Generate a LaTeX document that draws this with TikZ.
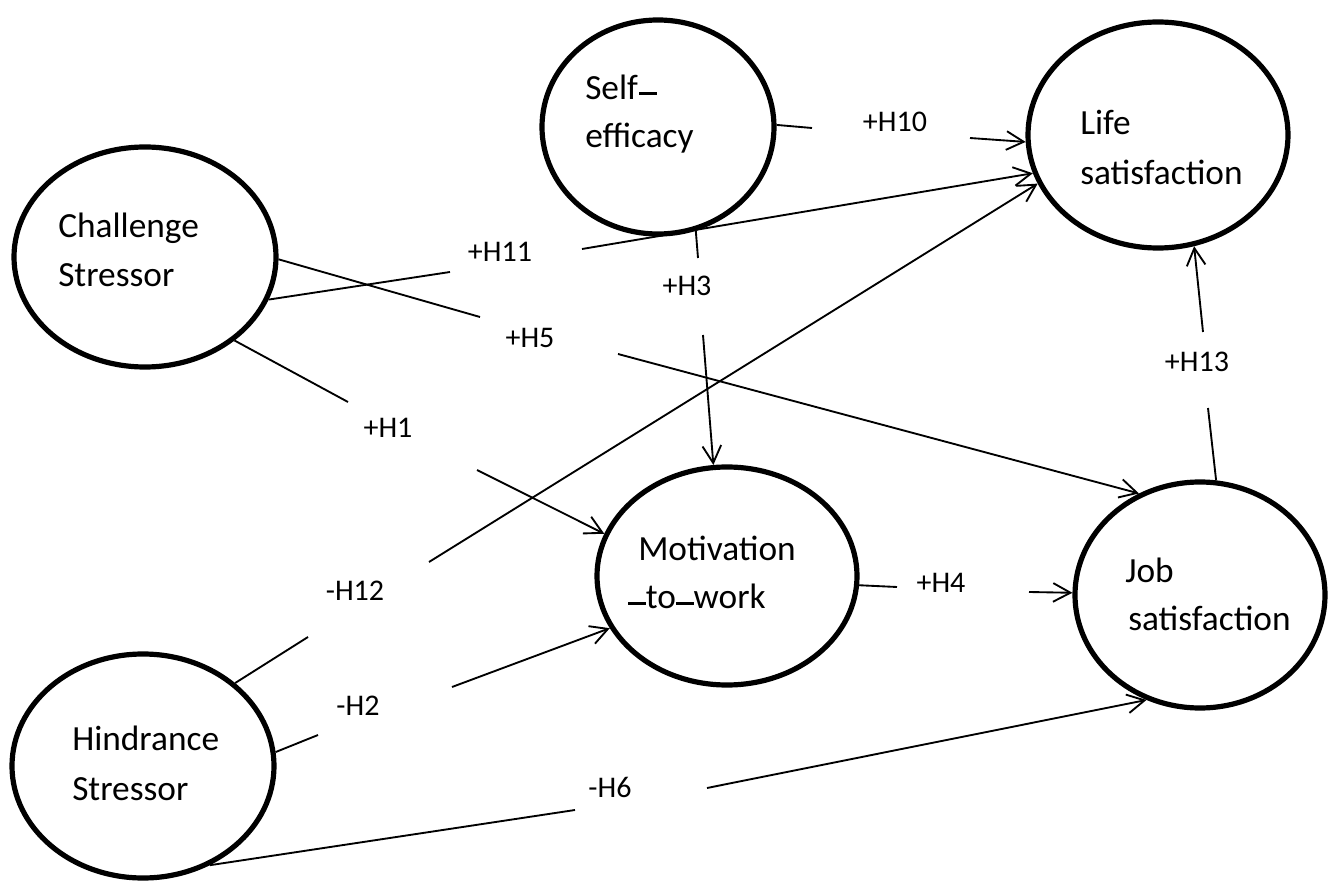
\documentclass[tikz,border=0pt]{standalone}
\usepackage{fontspec}
\setmainfont{Carlito}
\usetikzlibrary{arrows.meta,shapes.geometric}
\newcommand{\mydash}{\rule[0.09em]{0.5em}{0.09em}}
\newcommand{\mydashhi}{\rule[0.14em]{0.5em}{0.1em}}
\begin{document}
\begin{tikzpicture}[x=0.75pt,y=-0.75pt,
  bub/.style={draw, ellipse, line width=3.9pt, inner sep=0pt},
  txt/.style={anchor=base west, inner sep=0pt, font=\fontsize{26.5}{30}\selectfont},
  lab/.style={anchor=base, inner sep=0pt, font=\fontsize{22.5}{26}\selectfont},
  con/.style={line width=1.4pt},
  arr/.style={con, -{Straight Barb[length=13pt,width=14pt,line width=1.4pt]}}]
\useasboundingbox (0,0) rectangle (1340,884);
\fill[white] (0,0) rectangle (1340,884);

% ellipses
\node[bub, minimum width=196.5pt, minimum height=165pt] (chal) at (145,257) {};
\node[bub, minimum width=196.5pt, minimum height=168pt] (hind) at (143,766) {};
\node[bub, minimum width=174pt, minimum height=160.5pt] (self) at (658,127) {};
\node[bub, minimum width=195pt, minimum height=169.5pt] (life) at (1158,135) {};
\node[bub, minimum width=195pt, minimum height=163.5pt] (moti) at (727,576) {};
\node[bub, minimum width=187.5pt, minimum height=169.5pt] (job) at (1200,595) {};

% texts
\node[txt] (chalA) at (58,238) {Challenge};
\node[txt] (chalB) at (58,287) {Stressor};
\node[txt] (hindA) at (72,750) {Hindrance};
\node[txt] (hindB) at (72,800) {Stressor};
\node[txt] (selfA) at (585,100) {Self\kern0.03em\mydashhi};
\node[txt] (selfB) at (585,148) {efficacy};
\node[txt] (lifeA) at (1080,135) {Life};
\node[txt] (lifeB) at (1080,185) {satisfaction};
\node[txt] (motiA) at (638,560) {Motivation};
\node[txt] (motiB) at (628,608) {\mydash to\mydash work};
\node[txt] (jobA) at (1125,582) {Job};
\node[txt] (jobB) at (1128,630) {satisfaction};

% gap coordinates
\coordinate (g10a) at (812,128); \coordinate (g10b) at (970,138);
\coordinate (g11a) at (450,272); \coordinate (g11b) at (582,249);
\coordinate (g12a) at (308,637); \coordinate (g12b) at (429,562);
\coordinate (g3a) at (698,258);  \coordinate (g3b) at (703,335);
\coordinate (g5a) at (480,317);  \coordinate (g5b) at (618,354);
\coordinate (g1a) at (348,402);  \coordinate (g1b) at (477,470);
\coordinate (g2a) at (318,735);  \coordinate (g2b) at (452,687);
\coordinate (g4a) at (897,587);  \coordinate (g4b) at (1029,592);
\coordinate (g6a) at (575,810);  \coordinate (g6b) at (707,788);
\coordinate (g13a) at (1208,408); \coordinate (g13b) at (1203,332);

% labels
\node[lab] (l10) at (895,132) {+H10};
\node[lab] (l11) at (500,262) {+H11};
\node[lab] (l12) at (355,600) {-H12};
\node[lab] (l3) at (687,296) {+H3};
\node[lab] (l5) at (530,348) {+H5};
\node[lab] (l1) at (388,438) {+H1};
\node[lab] (l2) at (358,715) {-H2};
\node[lab] (l4) at (941,592) {+H4};
\node[lab] (l6) at (610,797) {-H6};
\node[lab] (l13) at (1197,372) {+H13};

% connectors
\draw[con] (self.1.5) -- (g10a);   \draw[arr] (g10b) -- (life.183);
\draw[con] (chal.-19.5) -- (g11a); \draw[arr] (g11b) -- (life.-163.6);
\draw[con] (hind.42.7) -- (g12a);  \draw[arr] (g12b) -- (life.-158.7);
\draw[con] (self.-70.1) -- (g3a);  \draw[arr] (g3b) -- (moti.97.7);
\draw[con] (chal.-1.3) -- (g5a);   \draw[arr] (g5b) -- (job.121);
\draw[con] (chal.-43.3) -- (g1a);  \draw[arr] (g1b) -- (moti.161.2);
\draw[con] (hind.6.2) -- (g2a);    \draw[arr] (g2b) -- (moti.-156);
\draw[con] (moti.-4) -- (g4a);     \draw[arr] (g4b) -- (job.179);
\draw[con] (hind.-56.4) -- (g6a);  \draw[arr] (g6b) -- (job.-117.8);
\draw[con] (job.82.4) -- (g13a);   \draw[arr] (g13b) -- (life.-72.6);
\end{tikzpicture}
\end{document}
